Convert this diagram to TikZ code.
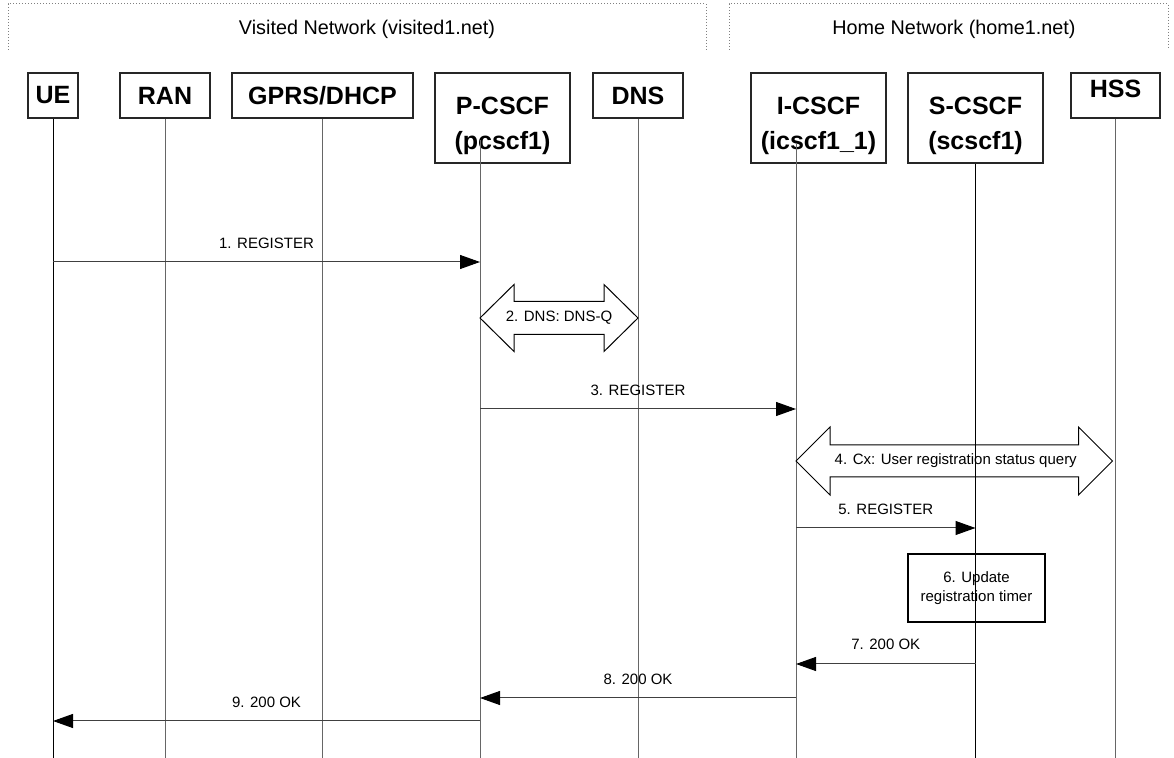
\documentclass[tikz,border=0pt]{standalone}
\usepackage{fontspec}
\setmainfont{Liberation Sans}
\usetikzlibrary{arrows.meta,calc}

\begin{document}
\begin{tikzpicture}[x = .5pt, y = -.5pt,
  every node/.style={anchor = center, font = \fontsize{7.5}{9.5}\selectfont},
  ent/.style={draw = black!85, line width = .6pt, minimum height = 22.5pt, inner sep = 0pt, align = center, font = \fontsize{12.5}{17.5}\selectfont\bfseries},
  ent2/.style={ent, minimum height = 45pt, text height = 34.5pt},
  life/.style={line width = .5pt, draw = black!60},
  msg/.style={line width = .5pt, draw = black!75, -{Triangle[length = 10pt, width = 7pt, color = black]}},
  fat/.style={draw = black, line width = .5pt, line join = miter},
  net/.style={draw = black!50, line width = .5pt, densely dotted},
  title/.style={font = \fontsize{9.9}{11}\selectfont}]
\useasboundingbox (0,0) rectangle (1174,758);
\coordinate (bot) at (0,758);

% networks
\draw[net] (8,50) -- (8,4) -- (706,4) -- (706,50);
\draw[net] (729,50) -- (729,4) -- (1168,4) -- (1168,50);
\node[title] (visited) at (367,29) {Visited Network (visited1.net)};
\node[title] (home) at (954,29) {Home Network (home1.net)};

% entities
\node[ent, minimum width = 25pt] (ue) at (53,95.5) {UE};
\node[ent, minimum width = 45pt] (ran) at (165,95.5) {RAN};
\node[ent, minimum width = 90.5pt] (gprs) at (322.5,95.5) {GPRS/DHCP};
\node[ent2, minimum width = 67.5pt] (pcscf) at (502.5,118) {P-CSCF\\(pcscf1)};
\node[ent, minimum width = 45pt] (dns) at (638,95.5) {DNS};
\node[ent2, minimum width = 67.5pt] (icscf) at (818.5,118) {I-CSCF\\(icscf1\_1)};
\node[ent2, minimum width = 67.5pt] (scscf) at (975.5,118) {S-CSCF\\(scscf1)};
\node[ent, minimum width = 44.5pt, text depth = 7pt] (hss) at (1115.5,95.5) {HSS};

% lifelines
\coordinate (pcL) at (480,140);
\coordinate (icL) at (796,143);
\draw[life, draw = black] (ue.south) -- (ue.south |- bot);
\draw[life] (ran.south) -- (ran.south |- bot);
\draw[life] (gprs.south) -- (gprs.south |- bot);
\draw[life] (pcL) -- (pcL |- bot);
\draw[life] (dns.south) -- (dns.south |- bot);
\draw[life] (icL) -- (icL |- bot);
\draw[life, draw = black] (scscf.south) -- (scscf.south |- bot);
\draw[life] (hss.south) -- (hss.south |- bot);

% messages
\coordinate (m1) at (0,262);
\coordinate (m2) at (0,318);
\coordinate (m3) at (0,409);
\coordinate (m4) at (0,461);
\coordinate (m5) at (0,528);
\coordinate (m7) at (0,664);
\coordinate (m8) at (0,698);
\coordinate (m9) at (0,721);

\draw[msg] (ue.south |- m1) -- (pcL |- m1) node[midway, yshift = 9.5pt] {1. REGISTER};

\draw[fat] (pcL |- m2) -- ++(34,-33.5) -- ++(0,17) -- ($(dns.south |- m2)+(-34,-16.5)$) -- ++(0,-17) -- (dns.south |- m2)
  -- ++(-34,33.5) -- ++(0,-17) -- ($(pcL |- m2)+(34,16.5)$) -- ++(0,17) -- cycle;
\node (q2) at ($(pcL |- m2)!.5!(dns.south |- m2)$) {2. DNS: DNS-Q};

\draw[msg] (pcL |- m3) -- (icL |- m3) node[midway, yshift = 9.5pt] {3. REGISTER};

\draw[fat] (icL |- m4) -- ++(34,-34) -- ++(0,18) -- ($(hss.south |- m4)+(-37,-16)$) -- ++(0,-18) -- ($(hss.south |- m4)+(-3,0)$)
  -- ++(-34,34) -- ++(0,-18) -- ($(icL |- m4)+(34,16)$) -- ++(0,18) -- cycle;
\node (q4) at ($(icL |- m4)!.5!(hss.south |- m4)$) {4. Cx: User registration status query};

\draw[msg] (icL |- m5) -- (scscf.south |- m5) node[midway, yshift = 9.5pt] {5. REGISTER};

\node[draw, line width = .7pt, minimum width = 68.5pt, minimum height = 34pt, align = center] (upd) at (976.5,588) {6. Update\\registration timer};

\draw[msg] (scscf.south |- m7) -- (icL |- m7) node[midway, yshift = 10pt] {7. 200 OK};
\draw[msg] (icL |- m8) -- (pcL |- m8) node[midway, yshift = 9.5pt] {8. 200 OK};
\draw[msg] (pcL |- m9) -- (ue.south |- m9) node[midway, yshift = 9.5pt] {9. 200 OK};
\end{tikzpicture}
\end{document}
